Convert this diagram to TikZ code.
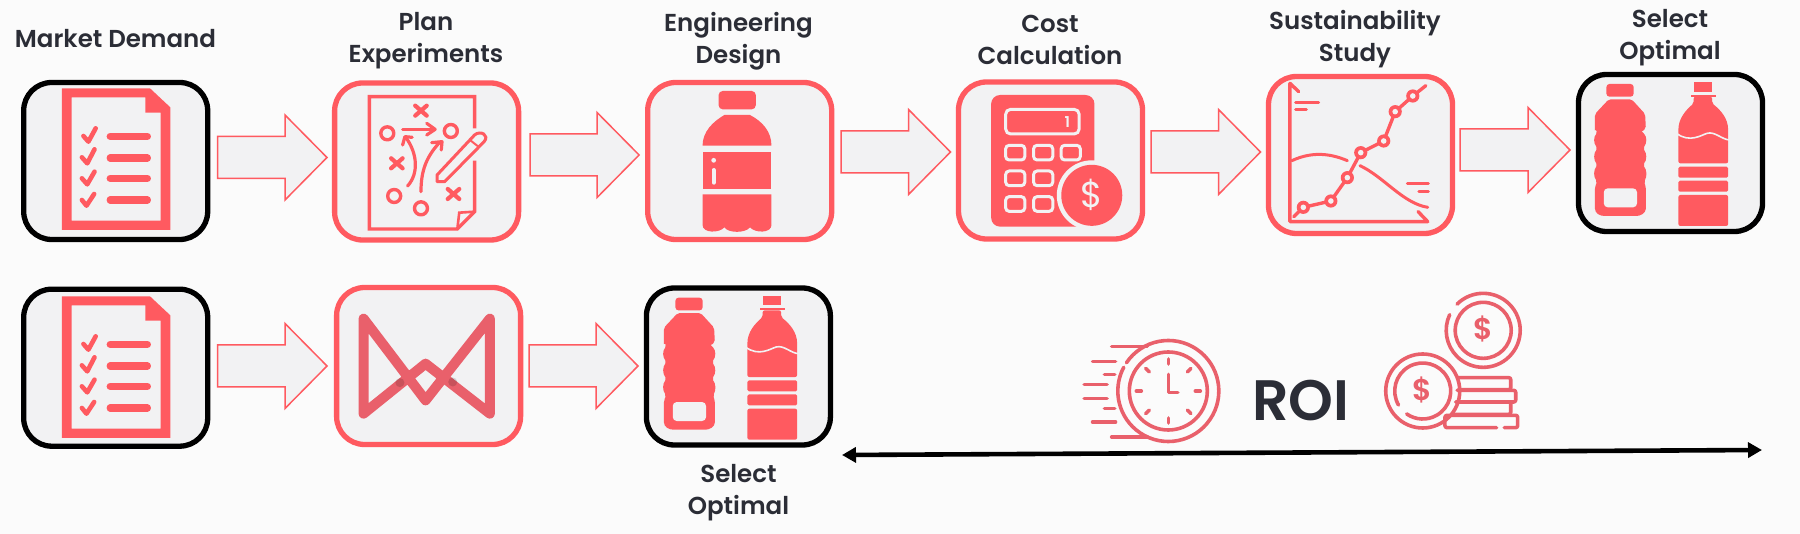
\documentclass[tikz,border=0pt]{standalone}
\usepackage{fontspec}
\setmainfont{Poppins}[BoldFont={Poppins SemiBold}]
\usetikzlibrary{calc,arrows.meta}
\definecolor{bgc}{HTML}{FBFBFB}
\definecolor{boxfill}{HTML}{F2F2F3}
\definecolor{redc}{HTML}{FF5A60}
\definecolor{softred}{HTML}{E9606B}
\definecolor{inkc}{HTML}{2B2D36}
\tikzset{
  iconz/.style={x=0.3827pt,y=-0.33333pt},
  boxbase/.style={rounded corners=28pt,minimum width=184pt,minimum height=157pt,line width=5.3pt,fill=boxfill,outer sep=0pt},
  redbox/.style={boxbase,draw=redc},
  blackbox/.style={boxbase,draw=black},
  blockarrow/.style={draw=redc,fill=boxfill,line width=1.5pt,line join=miter},
  lab/.style={font=\fontsize{24.5}{32}\selectfont\bfseries,text=inkc,align=center,anchor=center,inner sep=0pt},
  rl/.style={draw=redc,line cap=round,line join=round},
  sl/.style={draw=softred,line width=3.6pt,line cap=round,line join=round},
}
\newcommand{\blockarrow}[5]{%
  \coordinate (t) at ($(#1.east)+(#3,#5)$);
  \coordinate (h) at ($(#2.west |- t)+(-#4,0)$);
  \draw[blockarrow] ($(t)+(0,-21)$) -- ($(h)+(-42,-21)$) -- ($(h)+(-42,-42.5)$) -- (h) -- ($(h)+(-42,42.5)$) -- ($(h)+(-42,21)$) -- ($(t)+(0,21)$) -- cycle;
}
\newcommand{\docicon}[2]{%
  \begin{scope}[shift={(#1,#2)},iconz]
    \fill[redc,even odd rule] (162,265) -- (392,265) -- (445,322) -- (445,690) -- (162,690) -- cycle
      (187,292) -- (380,292) -- (380,338) -- (420,338) -- (420,662) -- (187,662) -- cycle;
    \foreach \yy in {409,474,535,600} \draw[rl,line width=7.3pt] (288,\yy) -- (385,\yy);
    \draw[rl,line width=4.6pt] (218,408) -- (231,425) -- (250,385);
    \draw[rl,line width=4.6pt] (214,472) -- (228,490) -- (247,448);
    \draw[rl,line width=4.6pt] (214,535) -- (228,553) -- (247,515);
    \draw[rl,line width=4.6pt] (214,600) -- (226,617) -- (246,582);
  \end{scope}}
\newcommand{\bottles}[2]{%
  \begin{scope}[shift={(#1,#2)},iconz]
    \fill[redc,rounded corners=3pt] (1062,252) rectangle (1133,290);
    \fill[redc,even odd rule,rounded corners=2pt] (1068,298) -- (1128,298) -- (1163,342) -- (1165,385)
      .. controls (1158,392) and (1155,395) .. (1157,398)
      .. controls (1168,410) and (1168,430) .. (1157,445)
      .. controls (1168,460) and (1168,480) .. (1157,495)
      .. controls (1168,510) and (1168,530) .. (1160,545)
      -- (1165,560) -- (1165,620) .. controls (1165,640) and (1150,648) .. (1135,648)
      -- (1062,648) .. controls (1045,648) and (1032,640) .. (1032,620)
      -- (1032,560) -- (1038,545)
      .. controls (1028,530) and (1028,510) .. (1039,495)
      .. controls (1028,480) and (1028,460) .. (1039,445)
      .. controls (1028,430) and (1028,410) .. (1039,398)
      .. controls (1035,390) and (1032,388) .. (1032,385) -- (1032,342) -- cycle;
    \fill[boxfill,rounded corners=4pt] (1055,565) rectangle (1142,622);
    \fill[redc] (1290,247) rectangle (1338,275);
    \fill[redc] (1283,284) rectangle (1347,290);
    \fill[redc,rounded corners=2pt] (1290,290) -- (1338,290) -- (1338,310) .. controls (1360,330) and (1380,355) .. (1380,395) -- (1380,490) -- (1250,490) -- (1250,395) .. controls (1250,355) and (1270,330) .. (1290,310) -- cycle;
    \draw[boxfill,line width=1.6pt] (1245,400) .. controls (1280,430) and (1310,405) .. (1325,400) .. controls (1345,393) and (1365,420) .. (1385,420);
    \fill[redc,rounded corners=1.5pt] (1250,500) rectangle (1380,533);
    \fill[redc,rounded corners=1.5pt] (1250,542) rectangle (1380,575);
    \fill[redc,rounded corners=2pt] (1250,585) rectangle (1380,678);
  \end{scope}}
\begin{document}
\begin{tikzpicture}[x=1pt,y=-1pt]
\useasboundingbox (0,0) rectangle (1800,534);
\fill[bgc] (0,0) rectangle (1800,534);
% boxes
\node[blackbox] (b1) at (115.7,161) {};
\node[redbox] (b2) at (426.6,161.5) {};
\node[redbox] (b3) at (739.7,161) {};
\node[redbox] (b4) at (1050.5,160.5) {};
\node[redbox] (b5) at (1360.5,155) {};
\node[blackbox] (b6) at (1670.5,153) {};
\node[blackbox] (c1) at (115.7,367.7) {};
\node[redbox] (c2) at (428.6,366) {};
\node[blackbox] (c3) at (738.4,366.5) {};
% block arrows
\blockarrow{b1}{b2}{10}{7.6}{-3.5}
\blockarrow{b2}{b3}{11.4}{8.6}{-6.5}
\blockarrow{b3}{b4}{9.3}{8}{-9}
\blockarrow{b4}{b5}{8.5}{8}{-8.5}
\blockarrow{b5}{b6}{7.5}{8.5}{-5}
\blockarrow{c1}{c2}{10}{9.6}{-1.7}
\blockarrow{c2}{c3}{8.4}{8.4}{0}
% labels
\node[lab] (l1) at (115.5,39) {Market Demand};
\node[lab] (l2) at (426,41) {Plan\\Experiments};
\node[lab] (l3) at (738.5,41.5) {Engineering\\Design};
\node[lab] (l4) at (1050,40) {Cost\\Calculation};
\node[lab] (l5) at (1355,39) {Sustainability\\Study};
\node[lab] (l6) at (1670,38) {Select\\Optimal};
\node[lab] (l7) at (738.5,493) {Select\\Optimal};
\node[font=\fontsize{57}{60}\selectfont\bfseries,text=inkc,inner sep=0pt] (roi) at (1301,401) {ROI};
% icons
\docicon{0}{0}
\docicon{0}{208}
\bottles{1200}{0}
\bottles{269}{213.7}
% strategy
\begin{scope}[iconz]
  \draw[rl,line width=3.4pt,line cap=butt,line join=miter] (1240,385) -- (1240,290) -- (965,290) -- (965,687) -- (1195,687) -- (1240,635) -- (1240,482);
  \draw[rl,line width=2.6pt,line join=miter] (1240,635) -- (1200,638) -- (1195,687);
  \foreach \cx/\cy in {1100/332,1037/490,1185/582}
    \draw[rl,line width=4.2pt] (\cx-15,\cy-15) -- (\cx+15,\cy+15) (\cx-15,\cy+15) -- (\cx+15,\cy-15);
  \foreach \cx/\cy in {1012/400,1178/393,1030/588,1100/625}
    \draw[rl,line width=3.4pt] (\cx,\cy) circle[radius=6.5pt];
  \draw[rl,line width=3.2pt] (1052,388) -- (1130,388);
  \draw[rl,line width=3.2pt] (1115,370) -- (1137,388) -- (1115,405);
  \draw[rl,line width=3.2pt] (1065,558) .. controls (1095,520) and (1090,460) .. (1062,415);
  \draw[rl,line width=3.2pt] (1052,435) -- (1058,410) -- (1077,412);
  \draw[rl,line width=3.2pt] (1100,575) .. controls (1100,510) and (1115,470) .. (1148,428);
  \draw[rl,line width=3.2pt] (1128,428) -- (1155,425) -- (1153,450);
  \draw[rl,line width=3pt] (1142,545) -- (1142,525) -- (1240,405) .. controls (1255,390) and (1280,405) .. (1265,425) -- (1162,545) -- cycle;
  \draw[rl,line width=2pt] (1228,420) -- (1250,440);
\end{scope}
% bottle
\begin{scope}[shift={(600,0)},iconz]
  \fill[redc,rounded corners=4pt] (310,273) rectangle (407,328);
  \fill[redc] (268,437) .. controls (268,395) and (295,365) .. (325,345) -- (392,345) .. controls (425,365) and (448,395) .. (448,437) -- cycle;
  \fill[redc] (268,455) rectangle (448,568);
  \fill[redc] (268,583) -- (448,583) -- (448,675) .. controls (448,700) and (405,700) .. (392,682) .. controls (380,700) and (335,700) .. (325,682) .. controls (312,700) and (268,700) .. (268,675) -- cycle;
  \draw[boxfill,line width=4pt,line cap=round] (297,510) -- (297,548);
  \fill[boxfill] (297,481) circle[radius=2.4pt];
\end{scope}
% calculator
\begin{scope}[shift={(600,0)},iconz]
  \fill[redc,rounded corners=9pt] (1022,285) rectangle (1292,680);
  \draw[boxfill,line width=3pt,rounded corners=5pt] (1060,328) rectangle (1252,402);
  \foreach \bx/\by in {1085/458,1158/458,1230/458,1085/535,1158/535,1085/612,1158/612}
    \draw[boxfill,line width=3pt,rounded corners=3.5pt] (\bx-25,\by-22) rectangle (\bx+25,\by+22);
  \fill[boxfill] (1285,586) circle[radius=35pt];
  \fill[redc] (1285,586) circle[radius=30.5pt];
  \node[font=\fontsize{15}{15}\selectfont\bfseries,text=boxfill,inner sep=0pt] (calcone) at (1221,365) {1};
  \node[font=\fontsize{36}{36}\selectfont,text=boxfill,inner sep=0pt] (calcdollar) at (1285,586) {\$};
\end{scope}
% chart
\begin{scope}[shift={(1200,0)},iconz]
  \draw[rl,line width=3.4pt] (258,275) -- (235,250) -- (235,665) -- (595,665) -- (570,635);
  \draw[rl,line width=3pt] (250,307) -- (310,307) (250,328) -- (278,328) (542,552) -- (597,552) (572,574) -- (597,574);
  \draw[rl,line width=3pt] (240,482) .. controls (300,450) and (350,465) .. (385,482);
  \draw[rl,line width=3pt] (418,497) .. controls (480,530) and (530,610) .. (595,622);
  \draw[rl,line width=3.4pt] (245,650) -- (270,622) -- (342,603) -- (385,533) -- (420,458) -- (480,423) -- (510,335) -- (556,288) -- (590,257);
  \foreach \px/\py in {270/622,342/603,385/533,420/458,480/423,510/335,556/288} {
    \fill[redc] (\px,\py) circle[radius=6.6pt];
    \fill[boxfill] (\px,\py) circle[radius=2.8pt];
  }
\end{scope}
% bowtie
\begin{scope}[iconz,shift={(0,801)}]
  \draw[draw=softred,line width=10pt,line join=round] (950,155) -- (950,440) -- (1112,290) -- (1280,440) -- (1280,155) -- (1112,400) -- cycle;
  \fill[black,opacity=.14] (1045,347) circle[radius=4.5pt];
  \fill[black,opacity=.14] (1183,345) circle[radius=4.5pt];
\end{scope}
% clock
\begin{scope}[shift={(600,267)},iconz]
  \coordinate (clk) at (1485,372);
  \draw[sl] (clk) ++(146:50.5pt) arc[start angle=146,end angle=-208,radius=50.5pt];
  \draw[sl] (clk) circle[radius=39pt];
  \foreach \a in {0,45,...,315} \draw[sl] (clk) ++(\a:27pt) -- ++(\a:5pt);
  \draw[sl] (1485,322) -- (1485,376) -- (1510,376);
  \draw[sl] (1337,238) -- (1430,238) (1337,510) -- (1430,510);
  \draw[sl] (1287,283) -- (1347,283) (1318,323) -- (1345,323) (1265,352) -- (1325,352) (1265,395) -- (1325,395) (1318,425) -- (1345,425) (1287,465) -- (1347,465);
\end{scope}
% coins
\begin{scope}[shift={(1200,267)},iconz]
  \draw[sl] (740,190) ++(135:37pt) arc[start angle=135,end angle=-205,radius=37pt];
  \draw[sl] (740,190) circle[radius=28pt];
  \draw[sl] (582,372) circle[radius=37pt];
  \draw[sl] (582,372) ++(210:28pt) arc[start angle=210,end angle=-125,radius=28pt];
  \draw[sl,rounded corners=2pt] (675,332) -- (812,332) -- (812,368) -- (675,368);
  \draw[sl,rounded corners=2pt] (672,370) -- (825,370) -- (825,405) -- (672,405);
  \draw[sl,rounded corners=2pt] (668,405) -- (812,405) -- (812,442) -- (660,442);
  \draw[sl,rounded corners=2pt] (775,482) -- (640,482) -- (640,445) -- (830,445) -- (830,482) -- (795,482);
  \node[font=\fontsize{30}{30}\selectfont\bfseries,text=softred,inner sep=0pt] (coinone) at (740,187) {\$};
  \node[font=\fontsize{30}{30}\selectfont\bfseries,text=softred,inner sep=0pt] (cointwo) at (582,368) {\$};
\end{scope}
% ROI span
\coordinate (spanl) at (842,455);
\coordinate (spanr) at (1762,450);
\draw[line width=4.6pt,{Triangle[length=14pt,width=15pt]}-{Triangle[length=14pt,width=15pt]}] (spanl) -- (spanr);
\end{tikzpicture}
\end{document}
